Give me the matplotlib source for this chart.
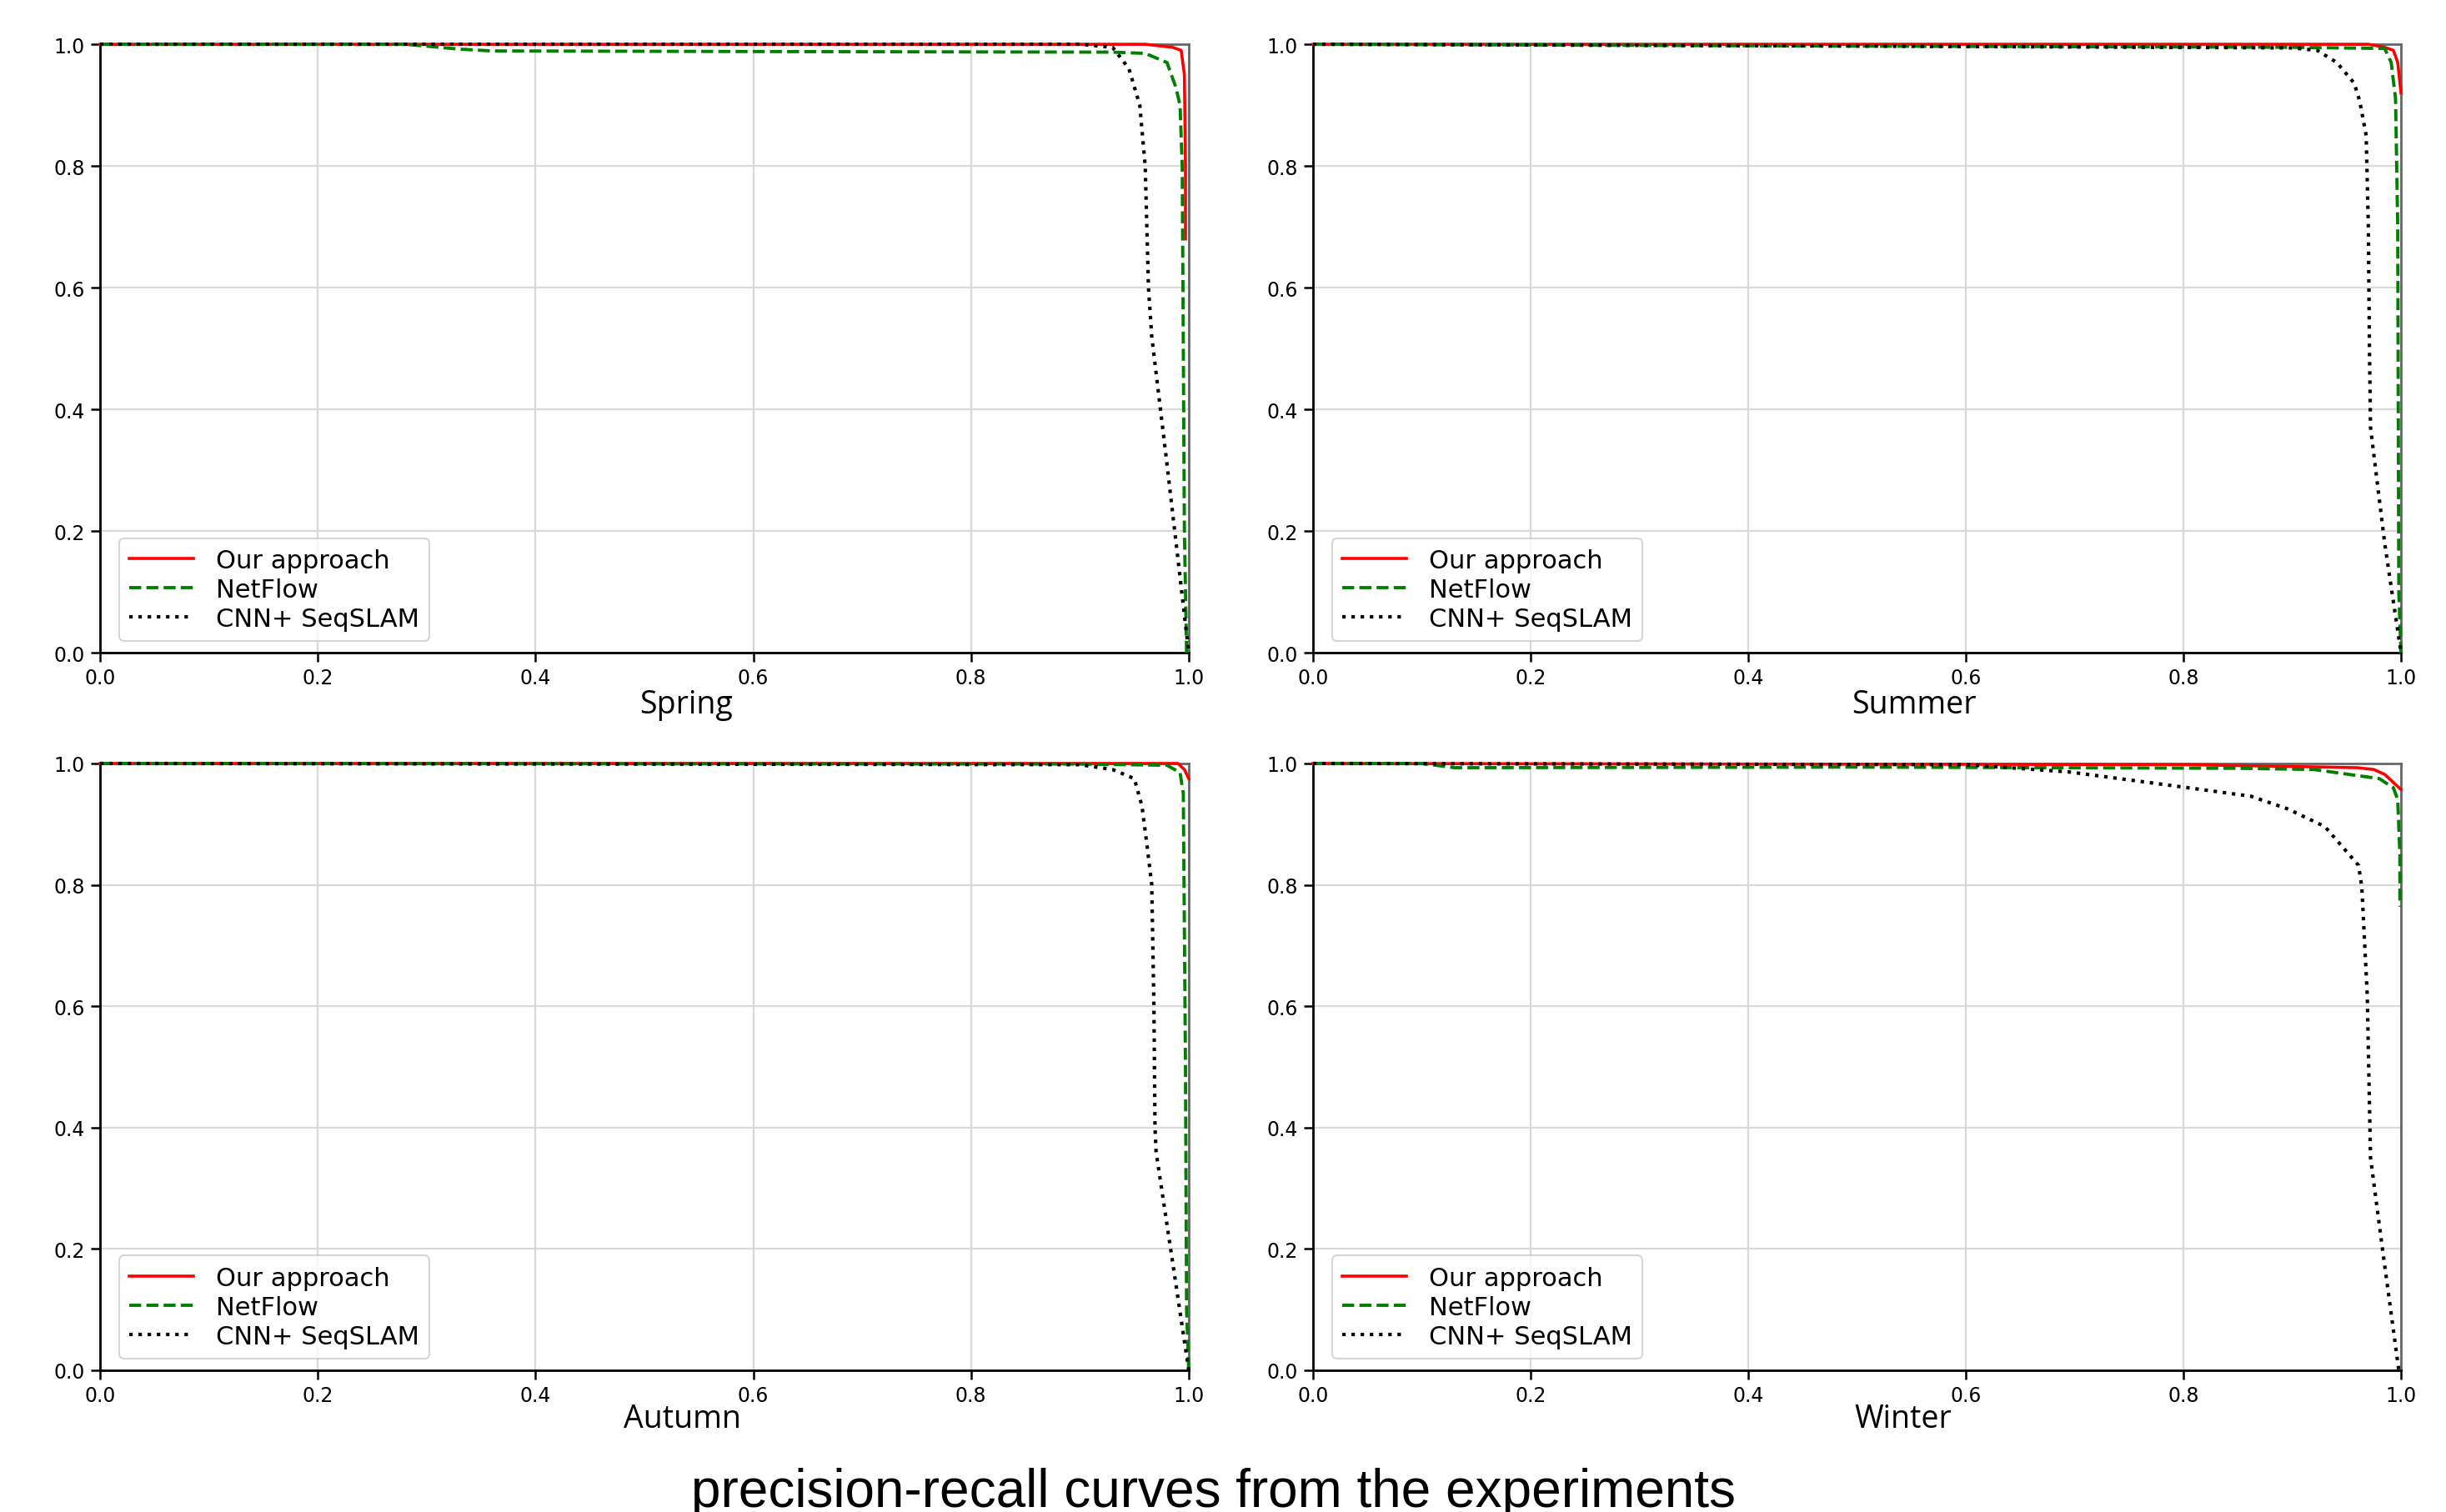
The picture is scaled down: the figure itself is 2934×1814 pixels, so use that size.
import matplotlib
matplotlib.use("Agg")
import matplotlib.pyplot as plt

# recall / precision
seasons = ["Spring", "Summer", "Autumn", "Winter"]
legend_labels = ["Our approach", "NetFlow", "CNN+ SeqSLAM"]

spring_ours_r = [0.0, 0.96, 0.985, 0.993, 0.996, 0.997, 0.997]
spring_ours_p = [1.0, 1.0, 0.995, 0.99, 0.95, 0.80, 0.68]
spring_net_r = [0.0, 0.28, 0.33, 0.36, 0.6, 0.93, 0.96, 0.98, 0.988, 0.992, 0.994, 0.996, 0.998]
spring_net_p = [1.0, 1.0, 0.992, 0.989, 0.988, 0.987, 0.985, 0.97, 0.93, 0.90, 0.80, 0.20, 0.0]
spring_cnn_r = [0.0, 0.90, 0.93, 0.945, 0.955, 0.96, 0.963, 0.966, 0.98, 1.0]
spring_cnn_p = [1.0, 1.0, 0.995, 0.96, 0.90, 0.80, 0.60, 0.52, 0.31, 0.0]

summer_ours_r = [0.0, 0.97, 0.985, 0.993, 0.997, 1.0]
summer_ours_p = [1.0, 1.0, 0.995, 0.99, 0.97, 0.92]
summer_net_r = [0.0, 0.5, 0.9, 0.985, 0.991, 0.995, 0.997, 0.998, 1.0]
summer_net_p = [1.0, 0.997, 0.995, 0.993, 0.97, 0.91, 0.70, 0.10, 0.0]
summer_cnn_r = [0.0, 0.5, 0.90, 0.923, 0.941, 0.957, 0.962, 0.968, 0.970, 0.971, 0.972, 0.985, 1.0]
summer_cnn_p = [1.0, 0.997, 0.994, 0.99, 0.97, 0.936, 0.907, 0.85, 0.70, 0.50, 0.37, 0.18, 0.0]

autumn_ours_r = [0.0, 0.99, 0.996, 1.0]
autumn_ours_p = [1.0, 1.0, 0.99, 0.975]
autumn_net_r = [0.0, 0.9, 0.98, 0.992, 0.995, 0.997, 0.998, 1.0]
autumn_net_p = [1.0, 0.999, 0.997, 0.985, 0.95, 0.5, 0.1, 0.0]
autumn_cnn_r = [0.0, 0.90, 0.93, 0.95, 0.957, 0.962, 0.966, 0.968, 0.969, 0.970, 0.985, 1.0]
autumn_cnn_p = [1.0, 0.998, 0.99, 0.975, 0.93, 0.86, 0.80, 0.60, 0.40, 0.36, 0.18, 0.0]

winter_ours_r = [0.0, 0.8, 0.9, 0.96, 0.975, 0.985, 1.0]
winter_ours_p = [1.0, 0.998, 0.995, 0.993, 0.99, 0.982, 0.957]
winter_net_r = [0.0, 0.10, 0.13, 0.5, 0.85, 0.92, 0.98, 0.993, 0.997, 0.999, 0.999]
winter_net_p = [1.0, 1.0, 0.993, 0.994, 0.992, 0.99, 0.975, 0.96, 0.94, 0.85, 0.764]
winter_cnn_r = [0.0, 0.6, 0.695, 0.80, 0.862, 0.896, 0.930, 0.961, 0.964, 0.969, 0.972, 0.984, 0.998]
winter_cnn_p = [1.0, 0.998, 0.986, 0.961, 0.946, 0.925, 0.896, 0.832, 0.796, 0.618, 0.35, 0.186, 0.0]

curves = {
    "Spring": [(spring_ours_r, spring_ours_p), (spring_net_r, spring_net_p), (spring_cnn_r, spring_cnn_p)],
    "Summer": [(summer_ours_r, summer_ours_p), (summer_net_r, summer_net_p), (summer_cnn_r, summer_cnn_p)],
    "Autumn": [(autumn_ours_r, autumn_ours_p), (autumn_net_r, autumn_net_p), (autumn_cnn_r, autumn_cnn_p)],
    "Winter": [(winter_ours_r, winter_ours_p), (winter_net_r, winter_net_p), (winter_cnn_r, winter_cnn_p)],
}

styles = [dict(color="red", ls="-", lw=2.6),
          dict(color="green", ls="--", lw=2.8),
          dict(color="black", ls=":", lw=3.0)]

# axes boxes in figure fractions, label positions below them
boxes = {"Spring": [0.0409, 0.568, 0.4451, 0.4022],
         "Summer": [0.5368, 0.568, 0.4448, 0.4022],
         "Autumn": [0.0409, 0.0937, 0.4451, 0.4011],
         "Winter": [0.5368, 0.0937, 0.4448, 0.4011]}
label_pos = {"Spring": (0.2805, 0.534), "Summer": (0.7825, 0.534),
             "Autumn": (0.2788, 0.0617), "Winter": (0.778, 0.0617)}

fig = plt.figure(figsize=(29.34, 18.15), dpi=100)
fig.patch.set_facecolor("white")

for s in seasons:
    ax = fig.add_axes(boxes[s])
    for (r, p), st, lab in zip(curves[s], styles, legend_labels):
        ax.plot(r, p, color=st["color"], linestyle=st["ls"], linewidth=st["lw"],
                label=lab, clip_on=False, zorder=3)
    ax.set_xlim(0, 1)
    ax.set_ylim(0, 1)
    ax.set_xticks([0, 0.2, 0.4, 0.6, 0.8, 1.0])
    ax.set_yticks([0, 0.2, 0.4, 0.6, 0.8, 1.0])
    ax.grid(True, color="#d9d9d9", linewidth=1.6, zorder=0)
    ax.tick_params(direction="out", length=8, width=1.8, labelsize=17, pad=5)
    for side in ["left", "bottom"]:
        ax.spines[side].set_color("black")
        ax.spines[side].set_linewidth(2.0)
    for side in ["top", "right"]:
        ax.spines[side].set_color("#666666")
        ax.spines[side].set_linewidth(2.0)
    leg = ax.legend(loc="lower left", fontsize=22, handlelength=2.5, frameon=True,
                    fancybox=True, borderpad=0.4, labelspacing=0.2, handletextpad=0.9,
                    bbox_to_anchor=(0.006, -0.002))
    leg.get_frame().set_edgecolor("#cccccc")
    leg.get_frame().set_linewidth(1.5)
    fig.text(label_pos[s][0], label_pos[s][1], s, ha="center", va="center",
             fontsize=27, family=["Open Sans", "DejaVu Sans"])

fig.text(0.496, 0.004, "precision-recall curves from the experiments", ha="center",
         va="baseline", fontsize=46, family=["Liberation Sans", "DejaVu Sans"])

fig.savefig("out.png", dpi=100)
